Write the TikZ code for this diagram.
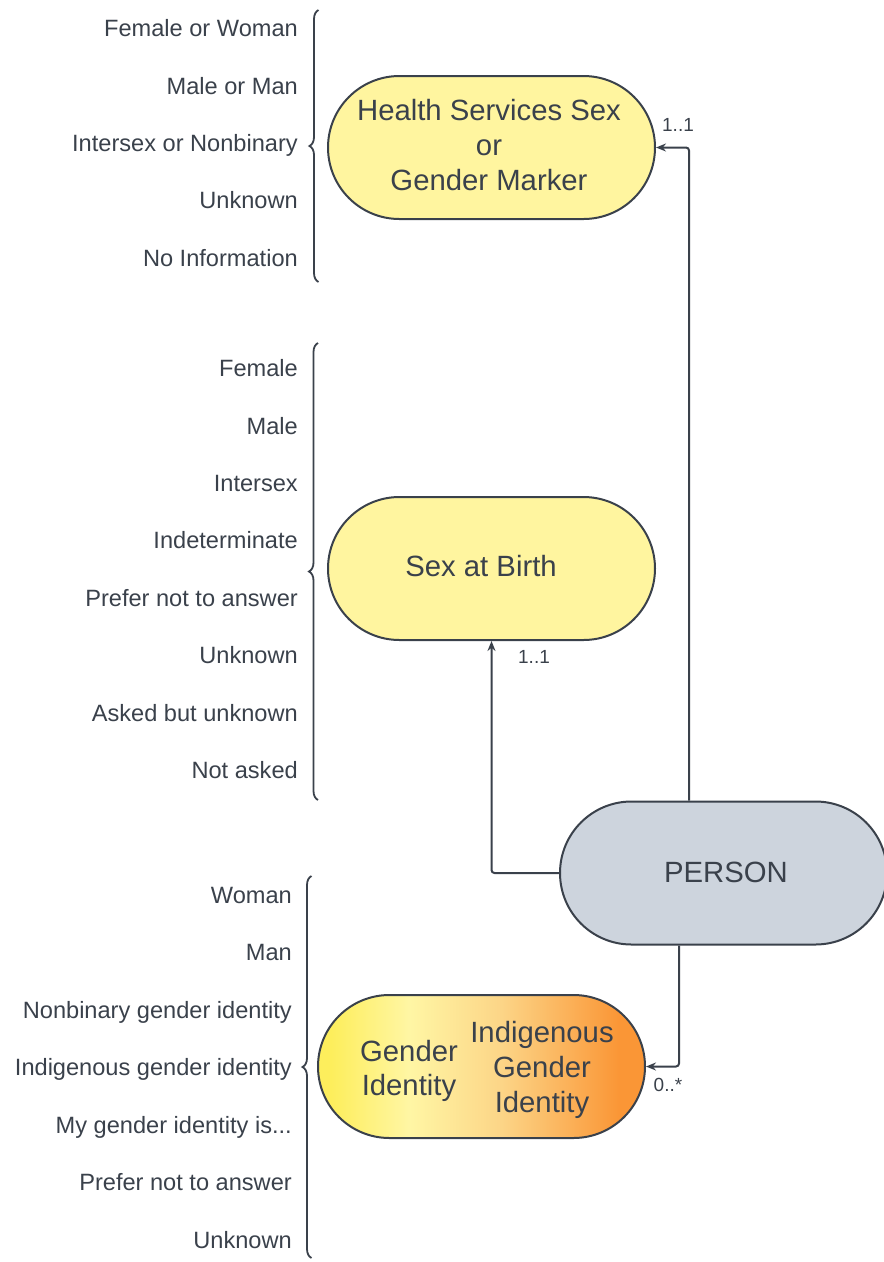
\documentclass[tikz,border=0pt]{standalone}
\usepackage{fontspec}
\setmainfont{Liberation Sans}
\usetikzlibrary{shapes.misc,arrows.meta,decorations.pathreplacing}

\definecolor{ink}{HTML}{3A414B}
\definecolor{paleyellow}{HTML}{FFF59F}
\definecolor{personfill}{HTML}{CDD4DD}
\definecolor{gyA}{HTML}{FDEE5C}
\definecolor{gyB}{HTML}{FFF6A4}
\definecolor{gyC}{HTML}{FCD587}
\definecolor{gyD}{HTML}{FA9636}

\pgfdeclarehorizontalshading{identityshade}{100bp}{%
  color(0bp)=(gyA); color(27bp)=(gyA); color(39bp)=(gyB);
  color(53bp)=(gyC); color(71bp)=(gyD); color(100bp)=(gyD)}

\tikzset{
  pill/.style={rounded rectangle, draw=ink, line width=2pt,
    minimum width=327pt, minimum height=143pt, inner sep=0pt,
    text=ink, align=center, font=\fontsize{29.3}{35}\selectfont},
  pilltext/.style={text=ink, align=center, inner sep=0pt, font=\fontsize{29.3}{35}\selectfont},
  option/.style={anchor=east, inner sep=0pt, text height=0.716em, text depth=0pt,
    yshift=-5pt, text=ink, font=\fontsize{23.6}{28}\selectfont},
  cardinality/.style={text=ink, inner sep=0pt, font=\fontsize{19}{22}\selectfont},
  link/.style={draw=ink, line width=2pt, rounded corners=3pt,
    -{Stealth[length=10pt,width=8pt]}},
  group brace/.style={draw=ink, line width=1.8pt,
    decorate, decoration={brace, amplitude=9pt, aspect=0.5}}
}

\begin{document}
\begin{tikzpicture}[x=1pt, y=-1pt]
\useasboundingbox (0,0) rectangle (884,1262);

% entities
\node[pill, fill=paleyellow] (hs) at (491.5,147.5) {};
\node[pilltext] (hslabel) at (489,145) {Health Services Sex\\or\\Gender Marker};
\node[pill, fill=paleyellow] (sab) at (491.5,568.5) {};
\node[pilltext] (sablabel) at (481,566.5) {Sex at Birth};
\node[pill, fill=personfill] (person) at (723.5,873) {};
\node[pilltext] (personlabel) at (726,872) {PERSON};
\node[pill, shading=identityshade] (gi) at (481.5,1066.5) {};
\node[pilltext, font=\fontsize{29.3}{34}\selectfont] (gilabel) at (409,1071)
  {Gender\\Identity};
\node[pilltext] (igilabel) at (542,1069.5)
  {Indigenous\\Gender\\Identity};

% connectors
\draw[link] ([xshift=-34.5pt]person.north) |- (hs.east);
\draw[link] (person.west) -| (sab.south);
\draw[link] ([xshift=-44.5pt]person.south) |- (gi.east);

\node[cardinality] (c1) at (678,125) {1..1};
\node[cardinality] (c2) at (534,657) {1..1};
\node[cardinality] (c3) at (668,1085) {0..*};

% values for the marker
\node[option] (hs1) at (298,28) {Female or Woman};
\node[option] (hs2) at (298,86) {Male or Man};
\node[option] (hs3) at (298,143) {Intersex or Nonbinary};
\node[option] (hs4) at (298,200) {Unknown};
\node[option] (hs5) at (298,258) {No Information};
\draw[group brace] (318.5,282) -- (318.5,10);

% values for sex at birth
\node[option] (sb1) at (298,368) {Female};
\node[option] (sb2) at (298,426) {Male};
\node[option] (sb3) at (298,483) {Intersex};
\node[option] (sb4) at (298,540) {Indeterminate};
\node[option] (sb5) at (298,598) {Prefer not to answer};
\node[option] (sb6) at (298,655) {Unknown};
\node[option] (sb7) at (298,713) {Asked but unknown};
\node[option] (sb8) at (298,770) {Not asked};
\draw[group brace] (318,800) -- (318,343);

% values for gender identity
\node[option] (gi1) at (292,895) {Woman};
\node[option] (gi2) at (292,952) {Man};
\node[option] (gi3) at (292,1010) {Nonbinary gender identity};
\node[option] (gi4) at (292,1067) {Indigenous gender identity};
\node[option] (gi5) at (292,1125) {My gender identity is...};
\node[option] (gi6) at (292,1182) {Prefer not to answer};
\node[option] (gi7) at (292,1240) {Unknown};
\draw[group brace] (311.5,1258) -- (311.5,876);
\end{tikzpicture}
\end{document}
